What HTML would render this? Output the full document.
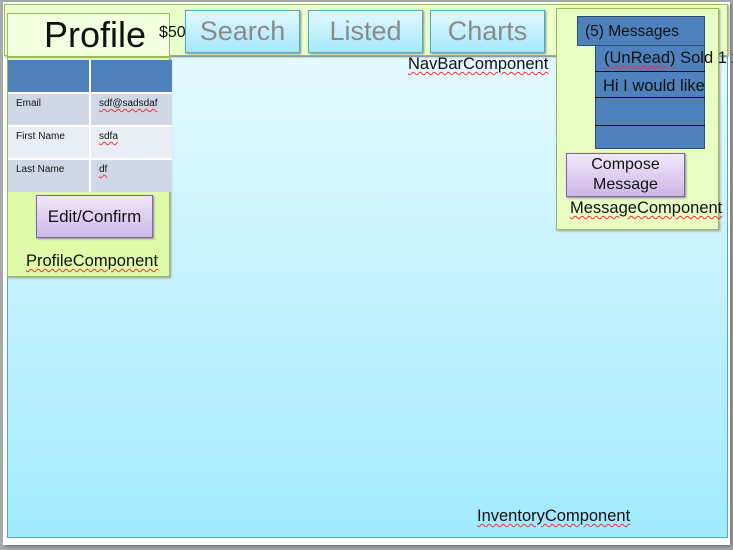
<!DOCTYPE html>
<html><head><style>
*{margin:0;padding:0;box-sizing:border-box}
body{width:733px;height:550px;background:#a7aaae;position:relative;overflow:hidden;font-family:"Liberation Sans",sans-serif}
.a{position:absolute}
.sq{text-decoration:underline wavy #e33;text-decoration-thickness:1px;text-underline-offset:2px}
.btn{background:linear-gradient(#e2f8ff,#a6e8fb);border:1px solid #4bacc6;color:#8a8a8a;font-size:27px;text-align:center;line-height:40px;box-shadow:1px 1px 2px #888}
.pb{background:linear-gradient(#f1e8fb,#cdb8e8);border:1px solid #8064a2;text-align:center;box-shadow:1px 1px 2px #888;color:#111}
td{font-size:10px;padding:4px 8px;vertical-align:top;color:#111}
.lb{font-size:16.5px;color:#111;white-space:nowrap}
</style></head><body>
<div class="a" style="left:3px;top:2px;width:727px;height:543px;background:#fff;box-shadow:2px 2px 3px #777"></div>
<div class="a" style="left:7px;top:56px;width:721px;height:482px;background:linear-gradient(#e4f9ff,#a2eafd);border:1px solid #4bacc6"></div>
<div class="a" style="left:4px;top:4px;width:724px;height:52px;background:#eaffcb;border:1px solid #9bbb59;box-shadow:1px 1px 2px #999"></div>
<div class="btn a" style="left:185px;top:10px;width:115px;height:43px">Search</div>
<div class="btn a" style="left:308px;top:10px;width:115px;height:43px">Listed</div>
<div class="btn a" style="left:430px;top:10px;width:115px;height:43px">Charts</div>
<div class="a sq lb" style="left:408px;top:55px">NavBarComponent</div>
<div class="a" style="left:7px;top:57px;width:163px;height:220px;background:#dffbaa;border:1px solid #9bbb59;box-shadow:1px 1px 2px #999"></div>
<div class="a" style="left:7px;top:13px;width:163px;height:44px;background:#f4ffe0;border:1px solid #9bbb59;font-size:36px;line-height:42px;padding-left:36px;color:#111;white-space:nowrap">Profile</div>
<div class="a" style="left:159px;top:24px;font-size:16px;color:#111">$50</div>
<table class="a" style="left:8px;top:60px;width:164px;border-collapse:collapse">
<tr style="height:33px;background:#4f81bd"><td style="width:82px;border-right:2px solid #fff"></td><td></td></tr>
<tr style="height:33px;background:#d0d8e8;border-top:2px solid #fff"><td style="border-right:2px solid #fff">Email</td><td><span class="sq">sdf@sadsdaf</span></td></tr>
<tr style="height:33px;background:#e9edf4;border-top:2px solid #fff"><td style="border-right:2px solid #fff">First Name</td><td><span class="sq">sdfa</span></td></tr>
<tr style="height:33px;background:#d0d8e8;border-top:2px solid #fff"><td style="border-right:2px solid #fff">Last Name</td><td><span class="sq">df</span></td></tr>
</table>
<div class="pb a" style="left:36px;top:195px;width:117px;height:43px;font-size:17px;line-height:41px">Edit/Confirm</div>
<div class="a sq lb" style="left:26px;top:252px">ProfileComponent</div>
<div class="a" style="left:556px;top:8px;width:163px;height:222px;background:#e8fcc4;border:1px solid #9bbb59;box-shadow:1px 1px 2px #999"></div>
<div class="a" style="left:595px;top:45px;width:110px;height:104px;background:#4f81bd;border:1px solid #2c4d75"></div>
<div class="a" style="left:595px;top:71px;width:110px;border-top:1px solid #111"></div>
<div class="a" style="left:595px;top:97px;width:110px;border-top:1px solid #111"></div>
<div class="a" style="left:595px;top:125px;width:110px;border-top:1px solid #111"></div>
<div class="a" style="left:577px;top:16px;width:128px;height:30px;background:#4f81bd;border:1px solid #2c4d75;font-size:15.5px;line-height:30px;padding-left:7px;color:#111;white-space:nowrap">(5) Messages</div>
<div class="a lb" style="left:604px;top:49px"><span class="sq">(UnRead)</span> Sold 1 x</div>
<div class="a lb" style="left:603px;top:77px">Hi I would like</div>
<div class="pb a" style="left:566px;top:153px;width:119px;height:44px;font-size:16px;line-height:20px;padding-top:1px">Compose<br>Message</div>
<div class="a sq lb" style="left:570px;top:199px">MessageComponent</div>
<div class="a sq lb" style="left:477px;top:507px">InventoryComponent</div>
</body></html>
